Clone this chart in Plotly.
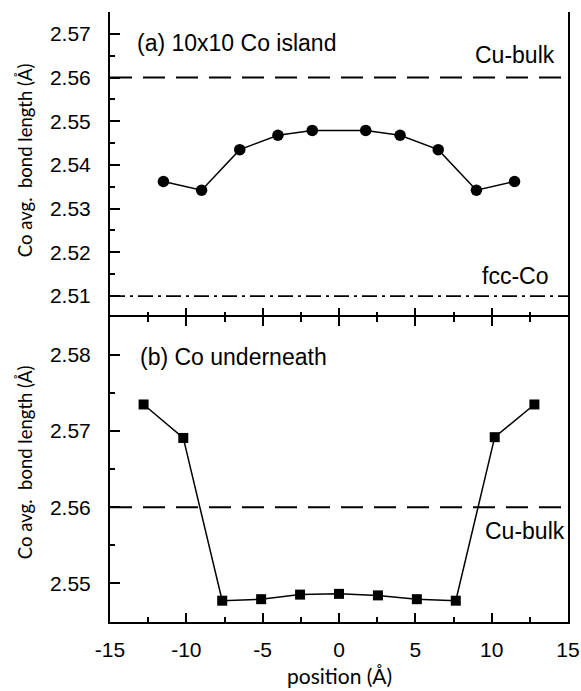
import plotly.graph_objects as go

# Panel (a): 10x10 Co island
pos_a = [-11.5, -9.0, -6.5, -4.0, -1.75, 1.75, 4.0, 6.5, 9.0, 11.5]
bond_a = [2.5362, 2.5342, 2.5435, 2.5468, 2.5479, 2.5479, 2.5468, 2.5435, 2.5342, 2.5362]

# Panel (b): Co underneath
pos_b = [-12.8, -10.2, -7.65, -5.1, -2.55, 0.0, 2.55, 5.1, 7.65, 10.2, 12.8]
bond_b = [2.5735, 2.5691, 2.5477, 2.5479, 2.5485, 2.5486, 2.5484, 2.5479, 2.5477, 2.5692, 2.5735]

# Reference lines
cu_bulk = 2.56
fcc_co = 2.51

x_range = [-15, 15]
x_ticks = [-15, -10, -5, 0, 5, 10, 15]
x_ticktext = ["-15", "-10", "-5", "0", "5", "10", "15"]
ya_range = [2.5052, 2.575]
ya_ticks = [2.51, 2.52, 2.53, 2.54, 2.55, 2.56, 2.57]
yb_range = [2.5449, 2.585]
yb_ticks = [2.55, 2.56, 2.57, 2.58]

TICKFONT = dict(family="Liberation Sans, Arial, sans-serif", size=21, color="black")
ANNFONT = dict(family="Liberation Sans, Arial, sans-serif", size=23, color="black")
TITLEFONT = dict(family="Lato, Open Sans, sans-serif", size=18.5, color="black")

fig = go.Figure()

fig.add_trace(go.Scatter(x=pos_a, y=bond_a, mode="lines+markers", xaxis="x2", yaxis="y2",
                         line=dict(color="black", width=1.5),
                         marker=dict(symbol="circle", size=11.5, color="black"),
                         showlegend=False))
fig.add_trace(go.Scatter(x=pos_b, y=bond_b, mode="lines+markers", xaxis="x", yaxis="y",
                         line=dict(color="black", width=1.5),
                         marker=dict(symbol="square", size=10, color="black"),
                         showlegend=False))

# Horizontal reference lines
fig.add_trace(go.Scatter(x=x_range, y=[cu_bulk, cu_bulk], mode="lines", xaxis="x2", yaxis="y2",
                         line=dict(color="black", width=2, dash="22px,11px"), showlegend=False,
                         hoverinfo="skip"))
fig.add_trace(go.Scatter(x=x_range, y=[fcc_co, fcc_co], mode="lines", xaxis="x2", yaxis="y2",
                         line=dict(color="black", width=1.8, dash="15px,5px,3px,5px"), showlegend=False,
                         hoverinfo="skip"))
fig.add_trace(go.Scatter(x=x_range, y=[cu_bulk, cu_bulk], mode="lines", xaxis="x", yaxis="y",
                         line=dict(color="black", width=2, dash="22px,11px"), showlegend=False,
                         hoverinfo="skip"))

common_x = dict(range=x_range, tickvals=x_ticks, ticktext=x_ticktext, ticks="inside",
                ticklen=9, tickwidth=2, automargin=False,
                tickcolor="black", linecolor="black", linewidth=2,
                showgrid=False, zeroline=False,
                minor=dict(dtick=2.5, tick0=0, ticks="inside", ticklen=5, tickwidth=1.5,
                           tickcolor="black", showgrid=False))
common_y = dict(ticks="inside", ticklen=10, tickwidth=2, tickcolor="black", automargin=False,
                showline=True, linecolor="black", linewidth=2, mirror=True,
                showgrid=False, zeroline=False, tickfont=TICKFONT, ticklabelstandoff=13,
                minor=dict(dtick=0.005, ticks="inside", ticklen=5, tickwidth=1.5,
                           tickcolor="black", showgrid=False))

fig.update_layout(
    width=581, height=691,
    margin=dict(l=110, r=13, t=12, b=69),
    paper_bgcolor="white", plot_bgcolor="white",
    xaxis=dict(**common_x, anchor="y", domain=[0, 1], mirror="ticks", showline=True,
               tickfont=TICKFONT, ticklabelstandoff=8),
    xaxis2=dict(**common_x, anchor="y2", domain=[0, 1], matches="x", showline=False,
                showticklabels=False),
    yaxis=dict(**common_y, domain=[0, 0.5], range=yb_range, tickvals=yb_ticks,
               ticktext=[f"{v:.2f}" for v in yb_ticks], anchor="x"),
    yaxis2=dict(**common_y, domain=[0.5, 1], range=ya_range, tickvals=ya_ticks,
                ticktext=[f"{v:.2f}" for v in ya_ticks], anchor="x2"),
    annotations=[
        dict(text="(a) 10x10 Co island", x=-13.36, y=2.5679, xref="x2", yref="y2",
             xanchor="left", yanchor="middle", showarrow=False, font=ANNFONT),
        dict(text="Cu-bulk", x=14.27, y=2.5652, xref="x2", yref="y2",
             xanchor="right", yanchor="middle", showarrow=False, font=ANNFONT),
        dict(text="fcc-Co", x=13.83, y=2.5146, xref="x2", yref="y2",
             xanchor="right", yanchor="middle", showarrow=False, font=ANNFONT),
        dict(text="(b) Co underneath", x=-13.15, y=2.5798, xref="x", yref="y",
             xanchor="left", yanchor="middle", showarrow=False, font=ANNFONT),
        dict(text="Cu-bulk", x=9.46, y=2.5569, xref="x", yref="y",
             xanchor="left", yanchor="middle", showarrow=False, font=ANNFONT),
        dict(text="Co avg.  bond length (Å)", x=-0.1857, y=0.757, xref="paper", yref="paper",
             xanchor="center", yanchor="middle", textangle=-90, showarrow=False, font=TITLEFONT),
        dict(text="Co avg.  bond length (Å)", x=-0.1857, y=0.262, xref="paper", yref="paper",
             xanchor="center", yanchor="middle", textangle=-90, showarrow=False, font=TITLEFONT),
        dict(text="position (Å)", x=0.5, y=-0.088, xref="paper", yref="paper",
             xanchor="center", yanchor="middle", showarrow=False,
             font=dict(family="Lato, Open Sans, sans-serif", size=21, color="black")),
    ],
)

fig.write_html("out.html", post_script="document.body.style.margin='0';",
               config={"displayModeBar": False})
